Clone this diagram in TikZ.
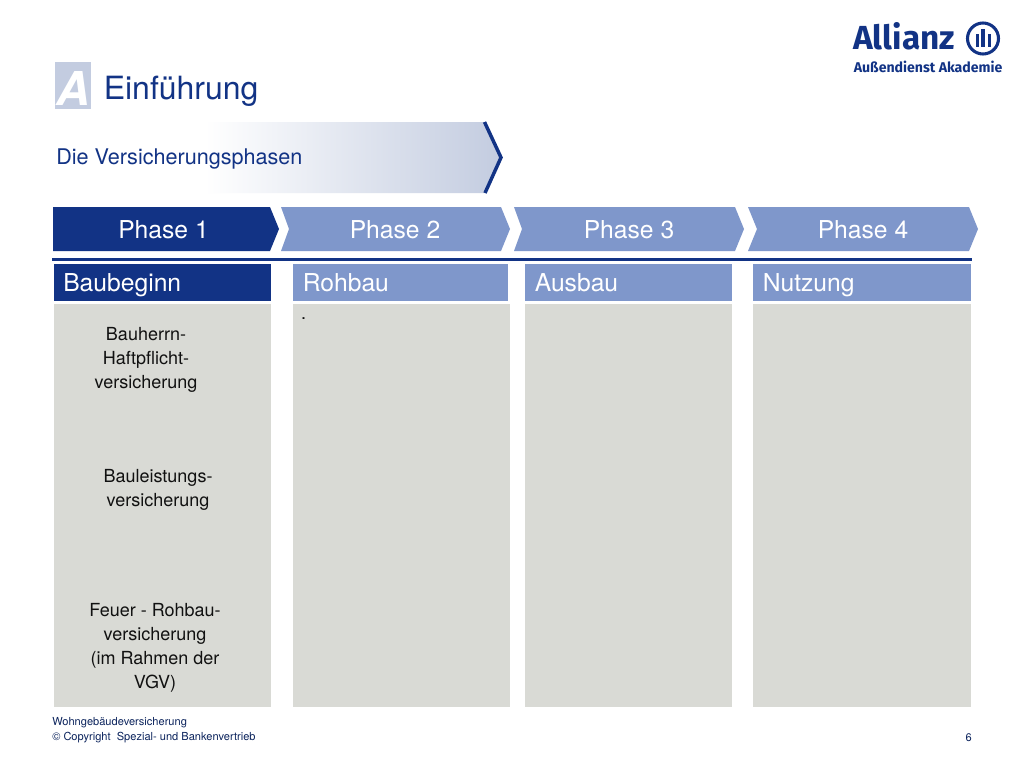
\documentclass[tikz,border=0pt]{standalone}
\usepackage{fontspec}
\setmainfont{TeX Gyre Heros}
\newfontfamily\logofont{Fira Sans}
\definecolor{navy}{HTML}{123385}
\definecolor{midblue}{HTML}{7F97CB}
\definecolor{panelgray}{HTML}{D9DAD5}
\definecolor{paleblue}{HTML}{C3CCE0}
\definecolor{txt}{HTML}{111111}
\tikzset{
  px/.style={x=0.75pt,y=-0.75pt},
  phasetext/.style={text=#1,font=\fontsize{18.5}{20}\selectfont,anchor=center,inner sep=0pt},
  headtext/.style={text=#1,font=\fontsize{18.5}{20}\selectfont,anchor=base west,inner sep=0pt},
  bodytext/.style={text=txt,font=\fontsize{13.5}{18}\selectfont,align=center,anchor=north,inner sep=0pt},
  foottext/.style={text=navy!70!black,font=\fontsize{8.3}{11.2}\selectfont,inner sep=0pt},
}
\begin{document}
\begin{tikzpicture}[px]
\useasboundingbox (0,0) rectangle (1024,768);
\fill[white] (0,0) rectangle (1024,768);
% title
\fill[paleblue] (55,62) rectangle (91,109);
\node[text=white,font=\fontsize{35}{35}\selectfont\bfseries\itshape,inner sep=0pt] (letterA) at (73,88) {A};
\node[text=navy,font=\fontsize{24}{26}\selectfont,anchor=base west,inner sep=0pt] (title) at (103.5,99) {Einführung};
% subtitle arrow
\shade[left color=white,right color=paleblue,shading angle=90] (205,122) -- (484,122) -- (501,157.5) -- (484,193) -- (205,193) -- cycle;
\draw[navy,line width=2.6pt] (484.5,122) -- (501,157.5) -- (485,193);
\node[text=navy,font=\fontsize{16.2}{18}\selectfont,anchor=base west,inner sep=0pt] (subtitle) at (56,164) {Die Versicherungsphasen};
% phases
\fill[navy] (53,207) -- (270,207) -- (279,229) -- (270,251) -- (53,251) -- cycle;
\fill[midblue] (281,207) -- (501,207) -- (510,229) -- (501,251) -- (281,251) -- (289,229) -- cycle;
\fill[midblue] (514,207) -- (735,207) -- (744,229) -- (735,251) -- (514,251) -- (522,229) -- cycle;
\fill[midblue] (748,207) -- (969,207) -- (978,229) -- (969,251) -- (748,251) -- (757,229) -- cycle;
\node[phasetext=white] (ph1) at (163.5,230) {Phase 1};
\node[phasetext=white] (ph2) at (395,230) {Phase 2};
\node[phasetext=white] (ph3) at (629,230) {Phase 3};
\node[phasetext=white] (ph4) at (863,230) {Phase 4};
% rule
\fill[navy] (52,258) rectangle (972,261);
% headers
\fill[navy] (54,264) rectangle (271,300.5);
\fill[midblue] (293,264) rectangle (508,300.5);
\fill[midblue] (525,264) rectangle (732,300.5);
\fill[midblue] (753,264) rectangle (971,300.5);
\node[headtext=white] (h1) at (63,291) {Baubeginn};
\node[headtext=white] (h2) at (302.5,291) {Rohbau};
\node[headtext=white] (h3) at (534.5,291) {Ausbau};
\node[headtext=white] (h4) at (762.5,291) {Nutzung};
% panels
\fill[panelgray] (54,304) rectangle (271,707);
\fill[panelgray] (293,304) rectangle (510,707);
\fill[panelgray] (525,304) rectangle (732,707);
\fill[panelgray] (753,304) rectangle (971,707);
\node[bodytext] (b1) at (146,327) {Bauherrn-\\Haftpflicht-\\versicherung};
\node[bodytext] (b2) at (158,469) {Bauleistungs-\\versicherung};
\node[bodytext] (b3) at (155,603) {Feuer - Rohbau-\\versicherung\\(im Rahmen der\\VGV)};
\node[bodytext] (dot) at (303.5,317) {.};
% footer
\node[foottext,align=left,anchor=north west] (foot) at (52,717) {Wohngebäudeversicherung\\© Copyright\ \ Spezial- und Bankenvertrieb};
\node[foottext,anchor=base east] (pagenum) at (972,741) {6};
% logo
\node[text=navy,font=\logofont\fontsize{25}{25}\selectfont\bfseries,anchor=base west,inner sep=0pt] (logo) at (853,49) {Allianz};
\draw[navy,line width=2.3pt] (983,38.5) circle (15.5);
\fill[navy] (975.5,34) -- (978.5,34) -- (978.5,47) -- (975.5,47) -- cycle;
\fill[navy] (981,29) rectangle (985,47);
\fill[navy] (987.5,34) -- (990.5,34) -- (990.5,47) -- (987.5,47) -- cycle;
\node[text=navy,font=\logofont\fontsize{10.6}{12}\selectfont\bfseries,anchor=base west,inner sep=0pt] (logosub) at (853.5,72) {Außendienst Akademie};
\end{tikzpicture}
\end{document}
